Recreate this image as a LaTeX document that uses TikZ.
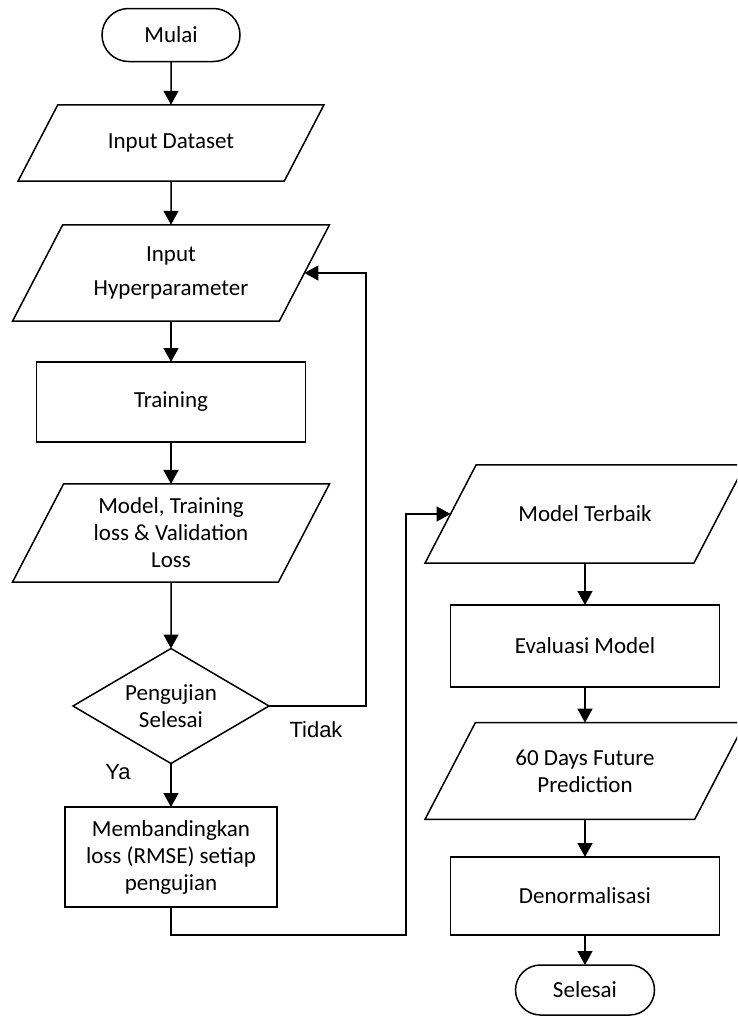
\documentclass[tikz,border=0pt]{standalone}
\usepackage{fontspec}
\setmainfont{Carlito}
\newfontfamily\labelfont{Liberation Sans}
\usetikzlibrary{arrows.meta,shapes.geometric,shapes.misc}

\begin{document}
\begin{tikzpicture}[x=1pt,y=-1pt,>={Triangle[width=15pt,length=14pt]},
  line width=1.5pt,
  every node/.style={font=\fontsize{23}{27}\selectfont,align=center,
    outer sep=0pt,inner sep=2pt},
  term/.style={rounded rectangle,draw,minimum width=142pt,minimum height=53pt},
  proc/.style={rectangle,draw,minimum width=269pt,minimum height=80pt},
  io/.style={trapezium,trapezium left angle=62.5,trapezium right angle=117.5,
    trapezium stretches body,draw,minimum width=317pt},
  cond/.style={diamond,draw,aspect=1.7,minimum width=196pt,minimum height=115pt,
    inner sep=0pt},
  answer/.style={font=\labelfont\fontsize{22}{26}\selectfont}]
  \clip (0,0) rectangle (737,1017);

  % left column
  \node[term] (mulai) at (171,35) {Mulai};
  \node[io,minimum width=306pt,inner ysep=29pt] (dataset) at (171,143)
    {Input Dataset};
  \node[io,inner ysep=22pt] (hyper) at (171,273) {Input\\[7pt]Hyperparameter};
  \node[proc] (training) at (171,402) {Training};
  \node[io,inner ysep=14pt] (model) at (171,533)
    {Model, Training\\loss \& Validation\\Loss};
  \node[cond] (uji) at (171,706) {Pengujian\\Selesai};
  \node[proc,minimum width=212pt,minimum height=100pt] (banding) at (171,857)
    {Membandingkan\\loss (RMSE) setiap\\pengujian};

  % right column
  \node[io,minimum width=320pt,inner ysep=41pt] (terbaik) at (585,514)
    {Model Terbaik};
  \node[proc,minimum height=82pt] (evaluasi) at (585,646) {Evaluasi Model};
  \node[io,minimum width=320pt,inner ysep=27pt] (prediksi) at (585,771)
    {60 Days Future\\Prediction};
  \node[proc,minimum height=78pt] (denorm) at (585,896) {Denormalisasi};
  \node[term,minimum width=143pt,minimum height=50pt] (selesai) at (585,990)
    {Selesai};

  \node[answer] (tidak) at (316,730) {Tidak};
  \node[answer] (ya) at (118,772) {Ya};

  \coordinate (ulang) at (366,706);
  \coordinate (balik) at (406,935);

  \draw[->] (mulai) -- (dataset);
  \draw[->] (dataset) -- (hyper);
  \draw[->] (hyper) -- (training);
  \draw[->] (training) -- (model);
  \draw[->] (model) -- (uji);
  \draw[->] (uji) -- (banding);
  \draw[->] (uji.east) -- (ulang) |- (hyper.east);
  \draw[->] (banding.south) |- (balik) |- (terbaik.west);
  \draw[->] (terbaik) -- (evaluasi);
  \draw[->] (evaluasi) -- (prediksi);
  \draw[->] (prediksi) -- (denorm);
  \draw[->] (denorm) -- (selesai);
\end{tikzpicture}
\end{document}
